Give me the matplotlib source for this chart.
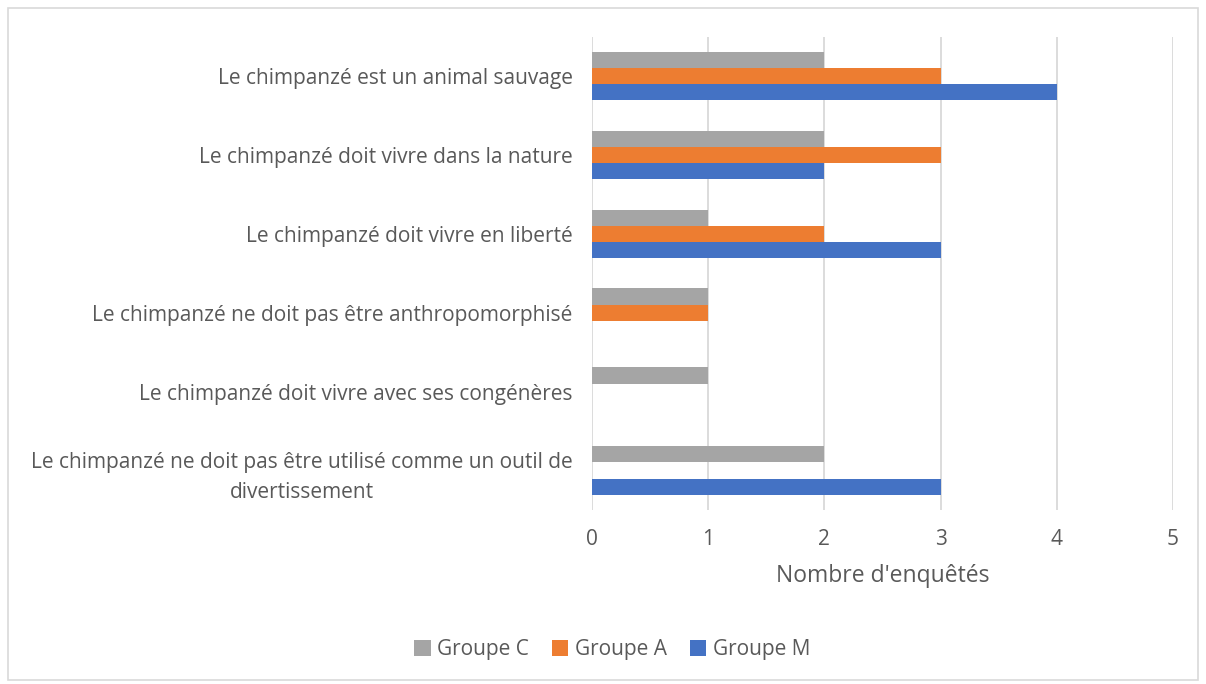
import numpy as np
import matplotlib.pyplot as plt
from matplotlib.patches import Rectangle, Patch

# Survey answers: number of respondents per statement and group
categories = [
    "Le chimpanzé est un animal sauvage",
    "Le chimpanzé doit vivre dans la nature",
    "Le chimpanzé doit vivre en liberté",
    "Le chimpanzé ne doit pas être anthropomorphisé",
    "Le chimpanzé doit vivre avec ses congénères",
    "Le chimpanzé ne doit pas être utilisé comme un outil de\ndivertissement",
]
groupe_c = [2, 2, 1, 1, 1, 2]
groupe_a = [3, 3, 2, 1, 0, 0]
groupe_m = [4, 2, 3, 0, 0, 3]

series = [
    ("Groupe C", groupe_c, "#A5A5A5"),
    ("Groupe A", groupe_a, "#ED7D31"),
    ("Groupe M", groupe_m, "#4472C4"),
]

TEXT = "#595959"
GRID = "#D9D9D9"

plt.rcParams["font.family"] = ["Open Sans", "DejaVu Sans"]

fig = plt.figure(figsize=(12.06, 6.84), dpi=100)
ax = fig.add_axes([0.4909, 0.2544, 0.4817, 0.6922])

# outer chart frame
fig.patches.append(Rectangle((8 / 1206, 4 / 684), 1190 / 1206, 672 / 684,
                             transform=fig.transFigure, fill=False,
                             edgecolor="#D9D9D9", linewidth=1.2))

y = np.arange(len(categories))
bar_h = 0.205
for i, (name, vals, color) in enumerate(series):
    ax.barh(y + (i - 1) * bar_h, vals, height=bar_h, color=color,
            label=name, zorder=3)

ax.set_ylim(len(categories) - 0.5, -0.5)
ax.set_xlim(0, 5)
ax.set_xticks(range(6))
ax.set_yticks(y)
ax.set_yticklabels(categories, multialignment="center", linespacing=1.55)
ax.tick_params(axis="both", length=0, labelsize=15, colors=TEXT)
ax.tick_params(axis="y", pad=14)
ax.tick_params(axis="x", pad=14)
ax.grid(axis="x", color=GRID, linewidth=1.3, zorder=0)
for s in ax.spines.values():
    s.set_visible(False)

ax.set_xlabel("Nombre d'enquêtés", fontsize=16.5, color=TEXT, labelpad=10)

handles = [Patch(facecolor=c, label=n) for n, _, c in series]
fig.legend(handles=handles, loc="center", bbox_to_anchor=(612 / 1206, 1 - 650 / 684),
           ncol=3, frameon=False, fontsize=15, labelcolor=TEXT,
           handlelength=0.8, handleheight=0.8, handletextpad=0.3,
           columnspacing=1.1)

fig.savefig("out.png", dpi=100)
